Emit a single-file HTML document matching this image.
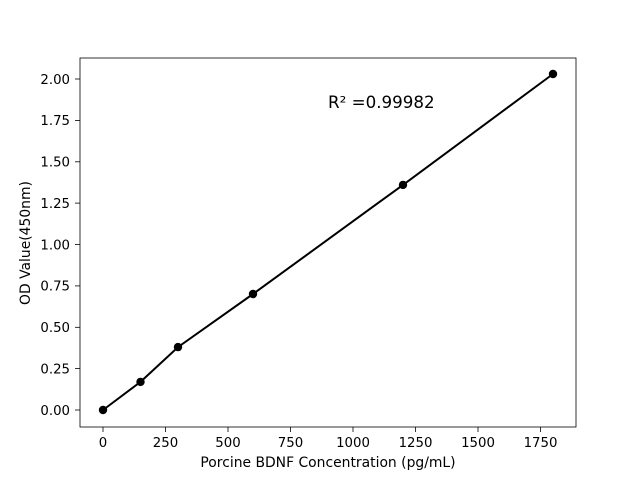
<!DOCTYPE html>
<html><head><meta charset="utf-8"><style>body{margin:0;background:#fff}svg{display:block}text{font-family:"DejaVu Sans","Liberation Sans",sans-serif;fill:#000}</style></head>
<body>
<svg width="640" height="480" viewBox="0 0 640 480" xmlns="http://www.w3.org/2000/svg">
<rect width="640" height="480" fill="#fff"/>
<rect x="80" y="58" width="496" height="369" fill="none" stroke="#000" stroke-width="0.8"/>
<g stroke="#000" stroke-width="0.8">
<line x1="103" y1="427" x2="103" y2="432"/><line x1="165.5" y1="427" x2="165.5" y2="432"/><line x1="228" y1="427" x2="228" y2="432"/><line x1="290.5" y1="427" x2="290.5" y2="432"/><line x1="353" y1="427" x2="353" y2="432"/><line x1="415.5" y1="427" x2="415.5" y2="432"/><line x1="478" y1="427" x2="478" y2="432"/><line x1="540.5" y1="427" x2="540.5" y2="432"/>
<line x1="75" y1="410" x2="80" y2="410"/><line x1="75" y1="368.6" x2="80" y2="368.6"/><line x1="75" y1="327.3" x2="80" y2="327.3"/><line x1="75" y1="285.9" x2="80" y2="285.9"/><line x1="75" y1="244.5" x2="80" y2="244.5"/><line x1="75" y1="203.1" x2="80" y2="203.1"/><line x1="75" y1="161.8" x2="80" y2="161.8"/><line x1="75" y1="120.4" x2="80" y2="120.4"/><line x1="75" y1="79" x2="80" y2="79"/>
</g>
<g font-size="13.3" text-anchor="middle">
<text x="103" y="447">0</text><text x="165.5" y="447">250</text><text x="228" y="447">500</text><text x="290.5" y="447">750</text><text x="353" y="447">1000</text><text x="415.5" y="447">1250</text><text x="478" y="447">1500</text><text x="540.5" y="447">1750</text>
</g>
<g font-size="13.3" text-anchor="end">
<text x="70" y="414.8">0.00</text><text x="70" y="373.4">0.25</text><text x="70" y="332.1">0.50</text><text x="70" y="290.7">0.75</text><text x="70" y="249.3">1.00</text><text x="70" y="207.9">1.25</text><text x="70" y="166.6">1.50</text><text x="70" y="125.2">1.75</text><text x="70" y="83.8">2.00</text>
</g>
<text x="328" y="467" font-size="13.9" text-anchor="middle">Porcine BDNF Concentration (pg/mL)</text>
<text transform="translate(30,243) rotate(-90)" font-size="13.9" text-anchor="middle">OD Value(450nm)</text>
<text x="328" y="108" font-size="16.7">R² =0.99982</text>
<polyline points="103,410 140.5,381.9 178,347.1 253,294 403,184.9 553,74" fill="none" stroke="#000" stroke-width="2"/>
<g fill="#000">
<circle cx="103" cy="410" r="4.2"/><circle cx="140.5" cy="381.9" r="4.2"/><circle cx="178" cy="347.1" r="4.2"/><circle cx="253" cy="294" r="4.2"/><circle cx="403" cy="184.9" r="4.2"/><circle cx="553" cy="74" r="4.2"/>
</g>
</svg>
</body></html>
